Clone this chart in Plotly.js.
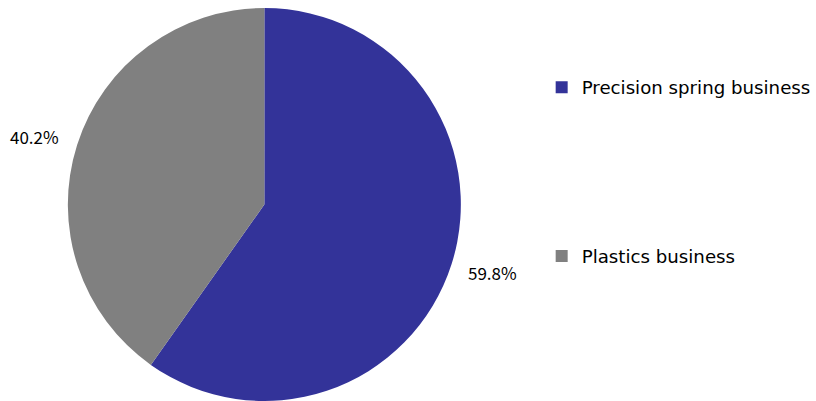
<!DOCTYPE html>
<html>
<head>
<meta charset="utf-8">
<script src="https://cdn.plot.ly/plotly-3.0.1.min.js"></script>
<style>html,body{margin:0;padding:0;background:#fff;}#chart{width:816px;height:401px;}</style>
</head>
<body>
<div id="chart"></div>
<script>
var categories = ["Precision spring business", "Plastics business"];
var shares = [59.8, 40.2];
var colors = ["#333399", "#808080"];

var total = shares.reduce(function(a, b){ return a + b; }, 0);
var pctText = shares.map(function(v){ return (v / total * 100).toFixed(1) + "%"; });

// spacing lines so legend entries sit far apart, as in the reference
var legendLabels = categories.map(function(c, i){
  return i < categories.length - 1 ? c + "<br> <br> <br> <br> <br> <br> " : c;
});

var W = 816, H = 401, TOP = 8, PH = H - TOP;
var LEGEND_FONT = "DejaVu Sans, Noto Sans, sans-serif";
var LABEL_FONT = "Liberation Sans Narrow, Noto Sans CJK JP, sans-serif";

var trace = {
  type: "pie",
  labels: legendLabels,
  values: shares,
  sort: false,
  direction: "clockwise",
  rotation: 0,
  marker: {colors: colors, line: {width: 0}},
  textinfo: "none",
  hoverinfo: "percent",
  domain: {x: [68 / W, 462 / W], y: [0, 1]}
};

var annPos = [
  {x: 494, y: 272.5},
  {x: 35, y: 136}
];

var annotations = pctText.map(function(t, i){
  return {
    text: t, showarrow: false, xref: "paper", yref: "paper",
    x: annPos[i].x / W, y: 1 - (annPos[i].y - TOP) / PH,
    xanchor: "center", yanchor: "middle",
    font: {family: LABEL_FONT, size: 17, color: "#000"}
  };
});

var layout = {
  width: W, height: H,
  margin: {l: 0, r: 0, t: TOP, b: 0},
  paper_bgcolor: "#fff",
  showlegend: true,
  legend: {
    x: 543 / W, y: 1 - (69 - TOP) / PH, xanchor: "left", yanchor: "top",
    valign: "top",
    font: {family: LEGEND_FONT, size: 18.2, color: "#000"},
    bgcolor: "rgba(0,0,0,0)"
  },
  annotations: annotations
};

Plotly.newPlot("chart", [trace], layout, {displayModeBar: false, staticPlot: true});
</script>
</body>
</html>
